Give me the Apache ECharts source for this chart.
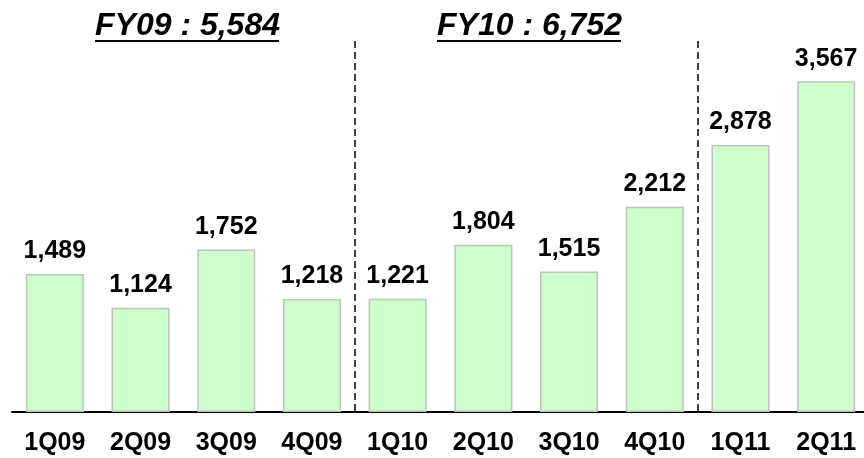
<!DOCTYPE html>
<html>
<head>
<meta charset="utf-8">
<script src="https://cdn.jsdelivr.net/npm/echarts@6/dist/echarts.min.js"></script>
<style>
	html, body { margin: 0; padding: 0; background: #fff; }
	#chart1 { width: 864px; height: 458px; }
</style>
</head>
<body>
<div id="chart1"></div>
<script>
const quarters = ['1Q09', '2Q09', '3Q09', '4Q09', '1Q10', '2Q10', '3Q10', '4Q10', '1Q11', '2Q11'];
const revenue = [1489, 1124, 1752, 1218, 1221, 1804, 1515, 2212, 2878, 3567];
const fyTitles = ['FY09 : 5,584', 'FY10 : 6,752'];
// boundaries (tick index) where the fiscal years split
const fyBreaks = [4, 8];

const FONT = 'Liberation Sans, Arial, sans-serif';

const fmt = (v) => v.toLocaleString('en-US');

const getOptionChart1 = () => {
	return {
		animation: false,
		grid: { left: 12, top: 41, width: 857, height: 371, outerBoundsMode: 'none', containLabel: false },
		xAxis: {
			type: 'category',
			data: quarters,
			axisTick: { show: false },
			axisLine: { lineStyle: { color: '#000', width: 2 } },
			axisLabel: {
				color: '#000',
				fontFamily: FONT,
				fontWeight: 'bold',
				fontSize: 25,
				margin: 19
			},
			splitLine: {
				show: true,
				interval: (idx) => fyBreaks.indexOf(idx) >= 0,
				lineStyle: { color: '#000', width: 1.5, type: [7, 4] }
			}
		},
		yAxis: {
			type: 'value',
			min: 0,
			max: 4000,
			show: false,
			splitLine: { show: false }
		},
		series: [
			{
				type: 'bar',
				data: revenue,
				barWidth: 58,
				itemStyle: {
					color: '#CCFFCC',
					borderColor: '#C0C0C0',
					borderWidth: 1.5
				},
				label: {
					show: true,
					position: 'top',
					distance: 10,
					color: '#000',
					fontFamily: FONT,
					fontWeight: 'bold',
					fontSize: 25,
					formatter: (p) => fmt(p.value)
				}
			}
		],
		graphic: [
			{
				type: 'text', left: 95, top: 10,
				style: { text: fyTitles[0], font: 'italic bold 32px ' + FONT, fill: '#000' }
			},
			{
				type: 'line', shape: { x1: 95, y1: 41, x2: 279, y2: 41 },
				style: { stroke: '#000', lineWidth: 2 }
			},
			{
				type: 'text', left: 437, top: 10,
				style: { text: fyTitles[1], font: 'italic bold 32px ' + FONT, fill: '#000' }
			},
			{
				type: 'line', shape: { x1: 437, y1: 41, x2: 621, y2: 41 },
				style: { stroke: '#000', lineWidth: 2 }
			}
		]
	};
};

const initCharts = () => {
	const chart1 = echarts.init(document.getElementById('chart1'));
	chart1.setOption(getOptionChart1());
};

initCharts();
</script>
</body>
</html>
